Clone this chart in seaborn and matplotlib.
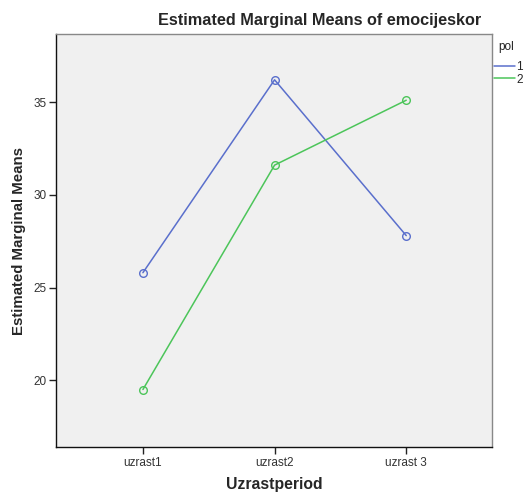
import seaborn as sns
import matplotlib.pyplot as plt
from matplotlib.lines import Line2D
import pandas as pd

# values
periods = ['uzrast1', 'uzrast2', 'uzrast 3']
pol_1 = [25.8, 36.2, 27.8]
pol_2 = [19.5, 31.6, 35.1]
groups = ['1', '2']
colors = ['#5a6fcc', '#4cc55a']

df = pd.DataFrame({
    'Uzrastperiod': periods * 2,
    'mean': pol_1 + pol_2,
    'pol': [groups[0]] * 3 + [groups[1]] * 3,
})

sns.set_style('white')
plt.rcParams['font.family'] = ['Liberation Sans', 'DejaVu Sans']

fig = plt.figure(figsize=(5.26, 4.93), dpi=100)
ax = fig.add_axes([0.1065, 0.0933, 0.8285, 0.8377])
ax.set_facecolor('#f0f0f0')

sns.lineplot(data=df, x='Uzrastperiod', y='mean', hue='pol', palette=colors,
             marker='o', markersize=5.5, linewidth=1.1, legend=False, ax=ax, sort=False)
for ln in ax.lines:
    ln.set_markerfacecolor('none')
    ln.set_markeredgecolor(ln.get_color())
    ln.set_markeredgewidth(1.0)

ax.set_xlim(-0.66, 2.65)
ax.set_ylim(16.4, 38.67)
ax.set_yticks([20, 25, 30, 35])
ax.tick_params(axis='both', direction='out', length=5, width=1, colors='#222222',
               labelsize=8.5, labelcolor='#333333', pad=2)
ax.tick_params(left=True, bottom=True)

ax.set_xlabel('Uzrastperiod', fontsize=11.3, fontweight='bold', labelpad=6)
ax.set_ylabel('Estimated Marginal Means', fontsize=10.8, fontweight='bold', labelpad=5)

for side in ['left', 'bottom']:
    ax.spines[side].set_color('#111111')
    ax.spines[side].set_linewidth(1.0)
for side in ['top', 'right']:
    ax.spines[side].set_color('#888888')
    ax.spines[side].set_linewidth(1.0)

fig.text(320 / 526, 1 - 20 / 493, 'Estimated Marginal Means of emocijeskor',
         ha='center', va='center', fontsize=11.7, fontweight='bold')

# legend: title as plain text, entries as lines only
fig.text(498 / 526, 1 - 47 / 493, 'pol', ha='left', va='center', fontsize=8.5,
         color='#222222')
handles = [Line2D([0], [0], color=c, linewidth=1.1) for c in colors]
fig.legend(handles, groups, loc='upper left',
           bbox_to_anchor=(494 / 526, 1 - 61 / 493), frameon=False, fontsize=8.5,
           handlelength=1.8, handletextpad=0.1, labelspacing=0.05,
           borderaxespad=0, borderpad=0)

fig.savefig('out.png', dpi=100)
